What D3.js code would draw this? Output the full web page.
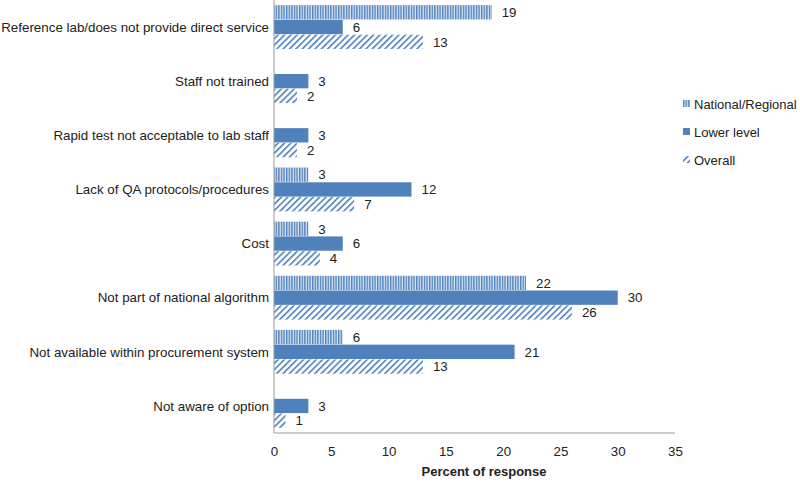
<!DOCTYPE html>
<html><head><meta charset="utf-8">
<script src="https://cdn.jsdelivr.net/npm/d3@7"></script>
<style>body{margin:0;background:#fff}svg{display:block}text{font-family:"Liberation Sans",Arial,Helvetica,sans-serif}</style>
</head><body>
<svg id="c" width="800" height="482"></svg>
<script>
const categories = ["Reference lab/does not provide direct service","Staff not trained","Rapid test not acceptable to lab staff","Lack of QA protocols/procedures","Cost","Not part of national algorithm","Not available within procurement system","Not aware of option"];
const seriesNames = ["National/Regional","Lower level","Overall"];
const national = [19, null, null, 3, 3, 22, 6, null];
const lower = [6, 3, 3, 12, 6, 30, 21, 3];
const overall = [13, 2, 2, 7, 4, 26, 13, 1];
const xTicks = [0,5,10,15,20,25,30,35];
const xTitle = "Percent of response";

const svg = d3.select("#c");
const blue = "#4f81bd";
const defs = svg.append("defs");
const pv = defs.append("pattern").attr("id","pv").attr("patternUnits","userSpaceOnUse").attr("width",2.6).attr("height",4);
pv.append("rect").attr("width",2.6).attr("height",4).attr("fill","#dfe8f4");
pv.append("rect").attr("width",1.4).attr("height",4).attr("fill",blue);
const pd = defs.append("pattern").attr("id","pd").attr("patternUnits","userSpaceOnUse").attr("width",4.5).attr("height",4.5).attr("patternTransform","rotate(45)");
pd.append("rect").attr("width",4.5).attr("height",4.5).attr("fill","#fff");
pd.append("rect").attr("width",1.6).attr("height",4.5).attr("fill",blue);
const fills = ["url(#pv)", blue, "url(#pd)"];

const x0 = 274, x1 = 675, yTop = 0, yBot = 433;
const x = d3.scaleLinear().domain([0,35]).range([x0,x1]);
const y = d3.scaleBand().domain(categories).range([yTop,yBot]).paddingInner(0.19).paddingOuter(0.095);
const ys = d3.scaleBand().domain(seriesNames).range([0,y.bandwidth()]).paddingInner(0.03);

const data = [national, lower, overall];
categories.forEach((c,i)=>{
  const g = svg.append("g");
  seriesNames.forEach((s,j)=>{
    const v = data[j][i];
    if (v == null) return;
    g.append("rect").attr("x",x(0)).attr("y",y(c)+ys(s)).attr("width",x(v)-x(0)).attr("height",ys.bandwidth()).attr("fill",fills[j]);
    g.append("text").attr("x",x(v)+10).attr("y",y(c)+ys(s)+ys.bandwidth()/2).attr("dy","0.36em").attr("font-size",13.3).attr("fill","#222").text(v);
  });
  g.append("text").attr("x",x0-5).attr("y",y(c)+y.bandwidth()/2).attr("dy","0.36em").attr("text-anchor","end").attr("font-size",13.35).attr("fill","#222").text(c);
});

// axes
svg.append("line").attr("x1",x0).attr("x2",x0).attr("y1",yTop).attr("y2",yBot).attr("stroke","#999").attr("stroke-width",1);
svg.append("line").attr("x1",x0).attr("x2",x1).attr("y1",yBot).attr("y2",yBot).attr("stroke","#999").attr("stroke-width",1);
const xa = svg.append("g").attr("transform",`translate(0,${yBot})`).call(d3.axisBottom(x).tickValues(xTicks).tickSize(0).tickPadding(14));
xa.select(".domain").remove();
xa.selectAll("text").attr("font-size",13.3).attr("fill","#222").attr("font-family","'Liberation Sans',Arial,sans-serif");
svg.append("text").attr("x",484).attr("y",476).attr("text-anchor","middle").attr("font-size",13).attr("font-weight","bold").attr("fill","#222").text(xTitle);

// legend
const lg = svg.append("g").attr("transform","translate(683,104)");
seriesNames.forEach((s,j)=>{
  const r = lg.append("g").attr("transform",`translate(0,${j*28})`);
  r.append("rect").attr("x",0).attr("y",-4).attr("width",7).attr("height",7).attr("fill",fills[j]);
  r.append("text").attr("x",11).attr("y",0).attr("dy","0.36em").attr("font-size",13).attr("fill","#222").text(s);
});
</script>
</body></html>
